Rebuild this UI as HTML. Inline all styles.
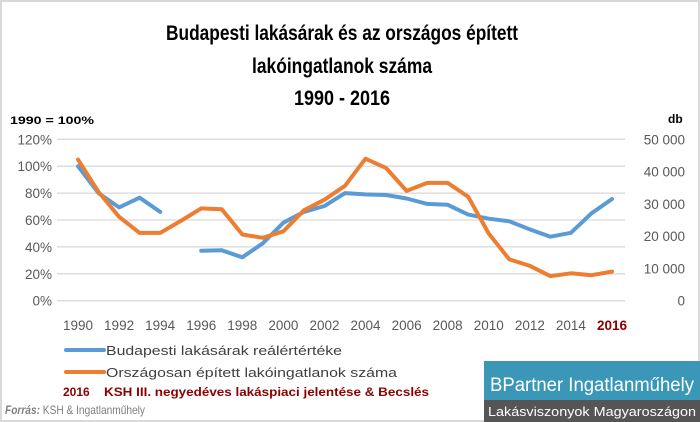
<!DOCTYPE html>
<html><head><meta charset="utf-8"><style>
html,body{margin:0;padding:0;background:#fff}
svg{display:block}
text{font-family:"Liberation Sans",sans-serif}
</style></head><body>
<svg id="chart" width="700" height="422" viewBox="0 0 700 422" xmlns="http://www.w3.org/2000/svg">
<rect x="1" y="1" width="698" height="420" fill="#fff" stroke="#d9d9d9" stroke-width="2"/>
<g font-weight="bold" font-size="21" text-anchor="middle" fill="#000">
<text x="342" y="40" textLength="352" lengthAdjust="spacingAndGlyphs">Budapesti lakásárak és az országos épített</text>
<text x="342" y="73" textLength="180" lengthAdjust="spacingAndGlyphs">lakóingatlanok száma</text>
<text x="342" y="105" textLength="96" lengthAdjust="spacingAndGlyphs">1990 - 2016</text>
</g>
<text x="10" y="124" font-size="11" font-weight="bold" textLength="84" lengthAdjust="spacingAndGlyphs">1990 = 100%</text>
<text x="668" y="123" font-size="12" font-weight="bold">db</text>
<g id="grid"></g><g id="yl"></g><g id="yr"></g><g id="xl"></g><g id="series"></g>
<g>
<line x1="66" y1="350" x2="104" y2="350" stroke="#5b9bd5" stroke-width="4" stroke-linecap="round"/>
<text x="106" y="355" font-size="13" fill="#404040" textLength="236" lengthAdjust="spacingAndGlyphs">Budapesti lakásárak reálértértéke</text>
<line x1="66" y1="372" x2="104" y2="372" stroke="#ed7d31" stroke-width="4" stroke-linecap="round"/>
<text x="106" y="377" font-size="13" fill="#404040" textLength="291" lengthAdjust="spacingAndGlyphs">Országosan épített lakóingatlanok száma</text>
</g>
<g font-size="12" font-weight="bold" fill="#8b0000">
<text x="63" y="396">2016</text>
<text x="104" y="396" textLength="325" lengthAdjust="spacingAndGlyphs">KSH III. negyedéves lakáspiaci jelentése &amp; Becslés</text>
</g>
<text x="5" y="414" font-size="12" fill="#7f7f7f" textLength="140" lengthAdjust="spacingAndGlyphs"><tspan font-weight="bold" font-style="italic">Forrás:</tspan> KSH &amp; Ingatlanműhely</text>
<g>
<rect x="484" y="361" width="216" height="39" fill="#3a97b8"/>
<text x="490" y="391" font-size="19" fill="#fff" textLength="204" lengthAdjust="spacingAndGlyphs">BPartner Ingatlanműhely</text>
<rect x="484" y="400" width="216" height="22" fill="#555555"/>
<text x="488" y="416" font-size="13" fill="#fff" textLength="208" lengthAdjust="spacingAndGlyphs">Lakásviszonyok Magyaroszágon</text>
</g>
</svg>
<script>
const years=[1990,1991,1992,1993,1994,1995,1996,1997,1998,1999,2000,2001,2002,2003,2004,2005,2006,2007,2008,2009,2010,2011,2012,2013,2014,2015,2016];
const priceIndex=[100,80,69.4,76.6,66,null,37.2,37.5,32.3,42.7,58,66,70.4,80,79,78.6,76,72,71.3,64,61,59,53,47.6,50.5,65,75.6];
const builtHomes=[43700,33700,26000,21000,21000,24700,28600,28300,20500,19500,21500,28000,31300,35600,44000,41100,34000,36500,36500,32200,20800,12800,10800,7600,8500,7900,9000];
const leftTicks=[0,20,40,60,80,100,120];
const rightTicks=[0,10000,20000,30000,40000,50000];
const xTickLabels=[1990,1992,1994,1996,1998,2000,2002,2004,2006,2008,2010,2012,2014,2016];
const NS="http://www.w3.org/2000/svg";
const X0=78,X1=612,YB=300.7,YT=139.3;
const xs=y=>X0+(y-years[0])/(years[years.length-1]-years[0])*(X1-X0);
const yl=v=>YB-v/120*(YB-YT);
const yr=v=>YB-v/50000*(YB-YT);
function mk(tag,attrs,parent,txt){const e=document.createElementNS(NS,tag);for(const k in attrs)e.setAttribute(k,attrs[k]);if(txt!==undefined)e.textContent=txt;document.getElementById(parent).appendChild(e);return e;}
leftTicks.forEach(v=>{
 const l=mk('line',{x1:57,x2:625,y1:yl(v),y2:yl(v),stroke:'#d9d9d9','stroke-width':1.3},'grid');
 
 
 const t=mk('text',{x:52,y:yl(v)+5,'font-size':13.5,fill:'#595959','text-anchor':'end'},'yl',v+'%');
 
 
});
rightTicks.forEach(v=>{
 const s=v===0?'0':(v/1000)+' 000';
 const t=mk('text',{x:685,y:yr(v)+5,'font-size':13.5,fill:'#595959','text-anchor':'end'},'yr',s);
 
 
});
xTickLabels.forEach(v=>{
 const last=v===2016;
 const t=mk('text',{x:xs(v),y:330,'font-size':13.5,fill:last?'#8b0000':'#595959','font-weight':last?'bold':'normal','text-anchor':'middle'},'xl',String(v));
 
 
});
function path(vals,fy){let d='',pen=false;vals.forEach((v,i)=>{if(v===null){pen=false;return;}d+=(pen?'L':'M')+xs(years[i]).toFixed(1)+','+fy(v).toFixed(1);pen=true;});return d;}
const pb=mk('path',{d:path(priceIndex,yl),fill:'none',stroke:'#5b9bd5','stroke-width':4,'stroke-linejoin':'round','stroke-linecap':'round'},'series');


const po=mk('path',{d:path(builtHomes,yr),fill:'none',stroke:'#ed7d31','stroke-width':4,'stroke-linejoin':'round','stroke-linecap':'round'},'series');


</script>
</body></html>
